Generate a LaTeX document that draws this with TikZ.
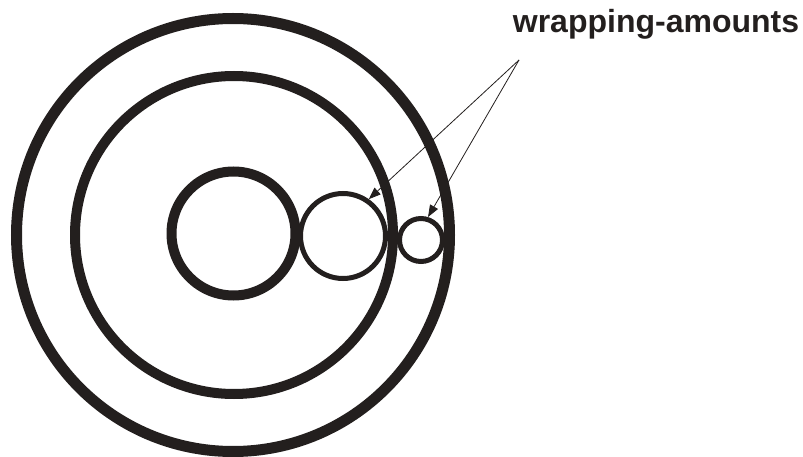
\documentclass[tikz,border=0pt]{standalone}
\usepackage{fontspec}
\setsansfont{Liberation Sans}
\usepackage{tikz}
\usetikzlibrary{
	arrows.meta,
	positioning
}
\definecolor{Ink}{RGB}{35,31,30}

\tikzset{
	ring/.style={draw=Ink, circle, inner sep=0pt},
	pointer/.style={-{Triangle[length=12pt, width=9pt]}, line width=0.8pt, Ink}
}

\begin{document}
\begin{tikzpicture}[x=1pt, y=-1pt]
	\useasboundingbox (0,0) rectangle (803,457);
	% concentric rings
	\node[ring, line width=11pt, minimum size=433pt] (outer) at (233,235) {};
	\node[ring, line width=10pt, minimum size=318pt] (middle) at (234,235) {};
	\node[ring, line width=10pt, minimum size=124pt] (core) at (233.5,233.5) {};
	% wrapped circles
	\node[ring, line width=5pt, minimum size=85pt] (wrapA) at (343,236) {};
	\node[ring, line width=5pt, minimum size=43pt] (wrapB) at (421,240) {};
	% label and pointers
	\node[anchor=base, text=Ink, font=\sffamily\bfseries\fontsize{32}{38}\selectfont] (label) at (656,33) {wrapping-amounts};
	\coordinate (src) at (519,60);
	\draw[pointer] (src) -- (wrapA.55);
	\draw[pointer] (src) -- (wrapB.73);
\end{tikzpicture}
\end{document}
